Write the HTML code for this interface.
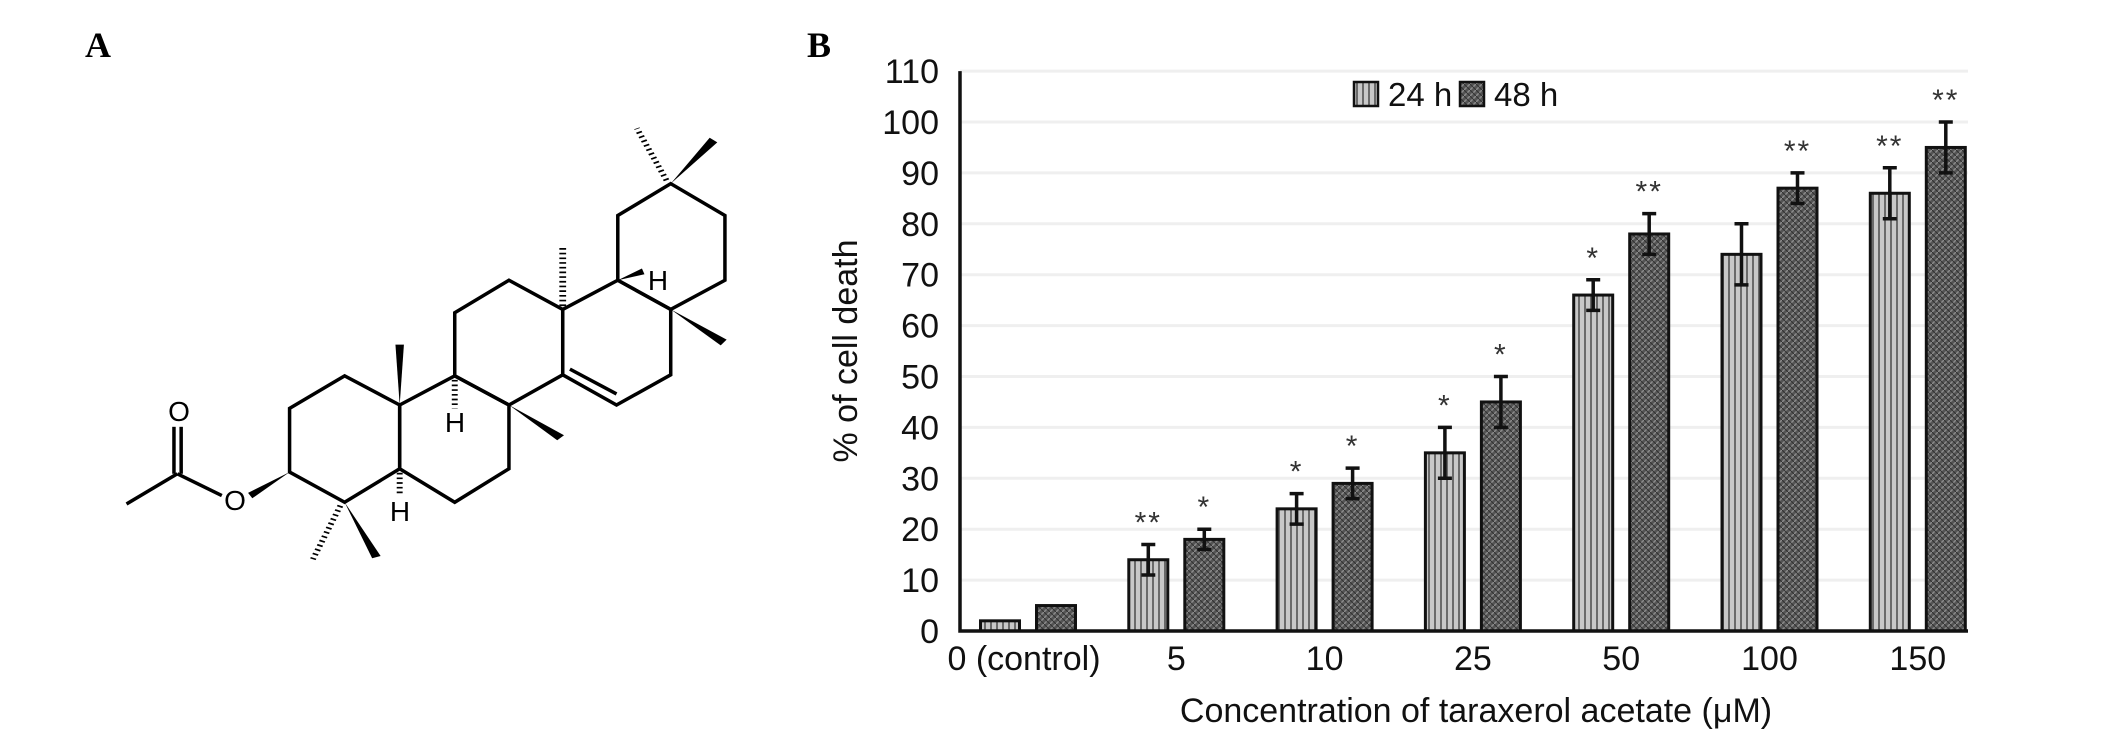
<!DOCTYPE html>
<html><head><meta charset="utf-8">
<style>
html,body{margin:0;padding:0;background:#fff;}
svg{display:block;font-family:"Liberation Sans",sans-serif;}
</style></head>
<body>
<svg width="2126" height="743" viewBox="0 0 2126 743" xmlns="http://www.w3.org/2000/svg">
<defs>
<pattern id="p24" width="6" height="6" patternUnits="userSpaceOnUse">
<rect width="6" height="6" fill="#c8c8c8"/><rect x="0" width="2" height="6" fill="#6a6a6a"/>
</pattern>
<pattern id="p48" width="6" height="6" patternUnits="userSpaceOnUse">
<rect width="6" height="6" fill="#555"/><path d="M0,6 L6,0" stroke="#8a8a8a" stroke-width="1.5"/><path d="M0,0 L6,6" stroke="#333" stroke-width="1"/>
</pattern>
</defs>
<text x="98" y="57" text-anchor="middle" font-family="Liberation Serif,serif" font-weight="bold" font-size="36">A</text>
<text x="819" y="57" text-anchor="middle" font-family="Liberation Serif,serif" font-weight="bold" font-size="36">B</text>

<g>
<g transform="translate(99,78) scale(0.4235,0.3354)" stroke="#000" fill="none">
<g stroke-width="3.5" vector-effect="non-scaling-stroke">
<polygon vector-effect="non-scaling-stroke" stroke-width="3.5" points="450,985 580,888 710,975 710,1165 580,1265 450,1175"/>
<polygon vector-effect="non-scaling-stroke" stroke-width="3.5" points="710,975 840,888 968,975 968,1165 840,1265 710,1165"/>
<polygon vector-effect="non-scaling-stroke" stroke-width="3.5" points="840,888 840,700 968,603 1095,690 1095,885 968,975"/>
<polygon vector-effect="non-scaling-stroke" stroke-width="3.5" points="1095,690 1225,603 1350,690 1350,885 1222,975 1095,885"/>
<polygon vector-effect="non-scaling-stroke" stroke-width="3.5" points="1225,603 1225,410 1350,315 1478,410 1478,603 1350,690"/>
<line vector-effect="non-scaling-stroke" stroke-width="3.5" x1="1112" y1="868" x2="1222" y2="942"/>
<line vector-effect="non-scaling-stroke" stroke-width="3.5" x1="290" y1="1245" x2="185" y2="1180"/>
<line vector-effect="non-scaling-stroke" stroke-width="3.5" x1="185" y1="1180" x2="65" y2="1270"/>
<line vector-effect="non-scaling-stroke" stroke-width="3.5" x1="177" y1="1180" x2="177" y2="1040"/>
<line vector-effect="non-scaling-stroke" stroke-width="3.5" x1="194" y1="1180" x2="194" y2="1040"/>
</g>
<polygon points="710,975 700,795 720,795" fill="#000" stroke="none"/>
<polygon points="968,975 1082,1080 1098,1065" fill="#000" stroke="none"/>
<polygon points="1350,690 1468,797 1482,780" fill="#000" stroke="none"/>
<polygon points="1350,315 1442,178 1460,192" fill="#000" stroke="none"/>
<polygon points="580,1265 645,1432 665,1425" fill="#000" stroke="none"/>
<polygon points="450,1175 352,1237 362,1253" fill="#000" stroke="none"/>
<polygon points="1225,603 1282,568 1288,585" fill="#000" stroke="none"/>
<line x1="840" y1="900" x2="840" y2="985" stroke-dasharray="5,9" stroke-width="14"/>
<line x1="710" y1="1177" x2="710" y2="1245" stroke-dasharray="5,9" stroke-width="14"/>
<line x1="1095" y1="680" x2="1095" y2="505" stroke-dasharray="5,9" stroke-width="16"/>
<line x1="1340" y1="305" x2="1270" y2="150" stroke-dasharray="5,9" stroke-width="14"/>
<line x1="570" y1="1275" x2="505" y2="1435" stroke-dasharray="5,9" stroke-width="14"/>
</g>
<g fill="#000" font-size="28" text-anchor="middle">
<text x="179" y="421">O</text><text x="235" y="510">O</text>
<text x="455" y="432">H</text><text x="400" y="521">H</text><text x="658" y="290">H</text>
</g>
</g>

<g id="chart"></g>
<script>
const categories=["0 (control)","5","10","25","50","100","150"];
const values24=[2,14,24,35,66,74,86];
const values48=[5,18,29,45,78,87,95];
const err24=[0.3,3,3,5,3,6,5];
const err48=[0.3,2,3,5,4,3,5];
const stars24=["","**","*","*","*","","**"];
const stars48=["","*","*","*","**","**","**"];
const yTicks=[0,10,20,30,40,50,60,70,80,90,100,110];

const NS="http://www.w3.org/2000/svg";
const g=document.getElementById('chart');
const y0=631,pxPer=5.09,xAxis=960,xEnd=1968;
const yS=v=>y0-v*pxPer;
const xC=i=>1028+148.3*i;
const bw=39;
function mk(tag,attrs,parent){const e=document.createElementNS(NS,tag);for(const k in attrs)e.setAttribute(k,attrs[k]);(parent||g).appendChild(e);return e;}
yTicks.forEach(t=>{
  if(t>0){const l=mk('line',{x1:xAxis,x2:xEnd,y1:yS(t),y2:yS(t),stroke:'#efefef','stroke-width':3});
  
  }
  const tx=mk('text',{x:939,y:yS(t)+12,'font-size':34,'text-anchor':'end',fill:'#111'});tx.textContent=t;
  
  
});
function bar(i,v,e,s,off,fill,nm){
  const x=xC(i)+off-bw/2;
  const r=mk('rect',{x:x,y:yS(v),width:bw,height:y0-yS(v),fill:fill,stroke:'#111','stroke-width':3});
  
  
  const cx=xC(i)+off;
  if(e>0.5){
    const eb=mk('path',{d:`M${cx},${yS(v+e)}V${yS(v-e)}M${cx-7},${yS(v+e)}H${cx+7}M${cx-7},${yS(v-e)}H${cx+7}`,stroke:'#111','stroke-width':3.5,fill:'none'});
    
    
  }
  if(s){const st=mk('text',{x:cx,y:yS(v+e)-12,'font-size':30,'text-anchor':'middle',fill:'#333','letter-spacing':2});st.textContent=s;
  
  }
}
categories.forEach((c,i)=>{
  bar(i,values24[i],err24[i],stars24[i],-28,'url(#p24)','bar-24h');
  bar(i,values48[i],err48[i],stars48[i],28,'url(#p48)','bar-48h');
  const t=mk('text',{x:i==0?xC(i)-4:xC(i),y:670,'font-size':34,'text-anchor':'middle',fill:'#111'});t.textContent=c;
  
  
});
const ax=mk('path',{d:`M${xAxis},${yS(110)}V${y0}H${xEnd}`,stroke:'#111','stroke-width':3.5,fill:'none'});


const yt=mk('text',{x:0,y:0,'font-size':34,'text-anchor':'middle',fill:'#111',transform:'translate(857,351) rotate(-90)'});yt.textContent='% of cell death';


const xt=mk('text',{x:1476,y:722,'font-size':34,'text-anchor':'middle',fill:'#111'});xt.textContent='Concentration of taraxerol acetate (μM)';


[['24 h','url(#p24)',1354],['48 h','url(#p48)',1460]].forEach(([lab,f,x])=>{
  const sw=mk('rect',{x:x,y:82,width:24,height:24,fill:f,stroke:'#111','stroke-width':2.5});
  
  
  const t=mk('text',{x:x+34,y:106,'font-size':33,fill:'#111'});t.textContent=lab;
  
  
});
</script>
</svg>
</body></html>
